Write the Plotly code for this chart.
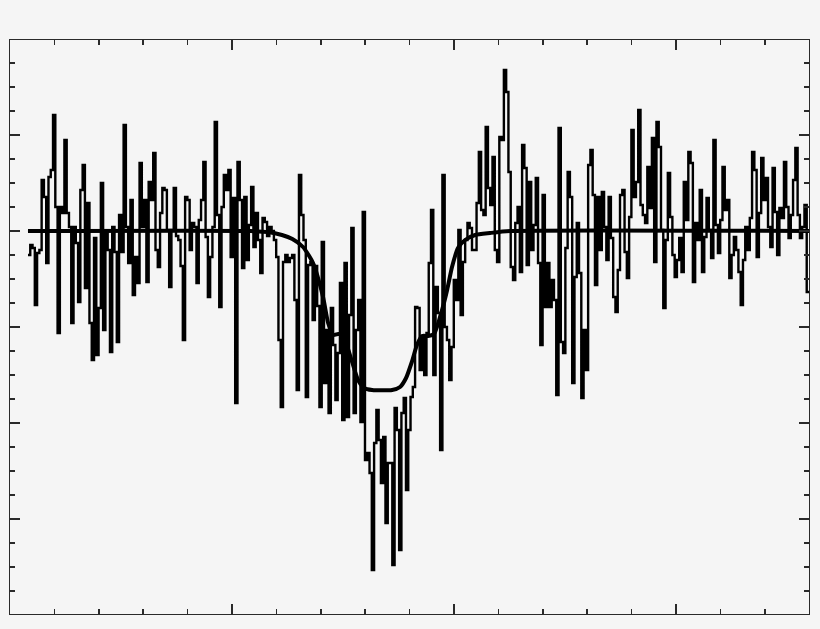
import numpy as np
import plotly.graph_objects as go

# ---- data: normalized flux per velocity bin ----
VEL_START = -191.9   # km/s, left edge of first bin
VEL_END = 159.9      # km/s, right edge of last bin

flux_seg1 = [0.952, 0.972, 0.966, 0.852, 0.956, 0.962, 1.102, 1.068, 0.936, 1.108,
             1.122, 1.232, 1.048, 0.796, 1.048, 1.036, 1.182, 1.036, 1.008, 0.816,
             1.008, 0.976, 0.858, 1.082, 1.132, 0.886, 1.056, 0.816, 0.742, 0.986,
             0.752, 0.846, 1.096, 0.802, 0.996, 0.962, 0.758, 1.008, 0.958, 0.778,
             1.032, 0.958, 1.212, 1.008, 0.936, 1.062, 0.872, 0.948, 0.896, 1.136,
             1.008, 1.062, 0.898, 1.098, 1.062, 1.156]
flux_seg2 = [0.962, 0.928, 1.036, 1.086, 1.082, 1.002, 0.888, 1.002, 1.086, 0.990,
             0.982, 0.930, 0.782, 1.068, 1.062, 0.962, 1.016, 1.008, 0.896, 1.022,
             1.062, 1.138, 0.988, 0.868, 0.948, 1.008, 1.218, 1.032, 0.848, 1.048,
             1.112, 1.082, 1.122, 0.948, 1.066, 0.656, 1.138, 1.062, 0.926, 1.068,
             0.942, 1.012, 1.088, 0.968, 1.036, 0.982, 0.916, 1.026, 1.018, 0.990,
             1.008, 1.000, 0.982, 0.948, 0.782, 0.648]
flux_seg3 = [0.938, 0.952, 0.938, 0.946, 0.952, 0.862, 0.682, 1.112, 1.032, 0.982,
             0.668, 0.932, 0.938, 0.822, 0.930, 0.850, 0.648, 0.978, 0.696, 0.802,
             0.636, 0.846, 0.772, 0.662, 0.756, 0.896, 0.622, 0.936, 0.628, 0.832,
             1.006, 0.636, 0.802, 0.862, 0.618, 1.038, 0.542, 0.556, 0.516, 0.322,
             0.576, 0.642, 0.582, 0.496, 0.588, 0.416, 0.536, 0.536, 0.332, 0.646,
             0.602, 0.362, 0.636, 0.666, 0.482, 0.602, 0.668, 0.688, 0.848]
flux_seg4 = [0.846, 0.722, 0.788, 0.712, 0.796, 0.936, 1.042, 0.712, 0.888, 0.836,
             0.562, 1.112, 0.808, 0.782, 0.702, 0.768, 0.902, 0.862, 1.002, 0.832,
             0.938, 0.982, 1.016, 1.006, 0.962, 0.962, 1.056, 1.158, 1.042, 1.032,
             1.208, 1.086, 1.052, 1.148, 0.962, 0.938, 1.188, 1.182, 1.322, 1.278,
             1.118, 0.928, 0.902, 1.016, 1.048, 0.918, 1.172, 1.126, 0.932, 1.098,
             0.962, 1.012, 1.106, 0.936, 0.772, 1.072, 0.848]
flux_seg5 = [0.936, 0.848, 0.902, 0.862, 0.672, 1.206, 0.778, 0.756, 0.966, 1.118,
             1.068, 0.696, 0.908, 1.016, 0.916, 0.666, 0.802, 0.722, 1.132, 1.162,
             1.072, 0.892, 1.068, 0.962, 1.078, 1.008, 0.942, 1.068, 0.986, 0.868,
             0.838, 0.922, 1.072, 1.082, 0.958, 0.906, 1.028, 1.202, 1.068, 1.098,
             1.242, 1.052, 1.032, 1.016, 1.128, 1.046, 1.186, 0.938, 1.218, 1.168,
             1.002, 0.846, 0.982, 1.116, 1.028, 0.952, 0.908]
flux_seg6 = [0.942, 0.986, 0.918, 1.098, 1.022, 1.158, 1.136, 0.898, 1.016, 0.982,
             1.082, 0.918, 0.988, 1.066, 1.002, 0.946, 1.182, 1.012, 0.956, 1.022,
             1.128, 1.042, 1.062, 0.906, 0.952, 0.988, 0.962, 0.918, 0.852, 0.942,
             1.008, 0.962, 1.026, 1.158, 1.122, 0.948, 1.036, 1.146, 1.062, 1.106,
             1.008, 0.968, 1.126, 1.038, 0.952, 1.046, 1.026, 1.138, 1.048, 0.986,
             1.032, 1.102, 1.166, 1.032, 0.986, 1.008, 1.052, 0.878]

# ---- model profile ----
model_vel = [-191.9, -91.9, -83.8, -77.5, -72.8, -68.0, -63.5, -59.0, -56.7, -54.5,
             -52.2, -50.4, -48.6, -45.9, -43.2, -40.5, -36.9, -27.9, -24.3, -21.6,
             -19.0, -16.7, -14.4, -11.7, -9.0, -5.4, -3.1, -0.9, 1.8, 5.0,
             9.5, 16.2, 25.3, 159.9]
model_flux = [1.000, 1.000, 0.998, 0.992, 0.984, 0.968, 0.936, 0.868, 0.816, 0.792,
              0.794, 0.794, 0.776, 0.738, 0.702, 0.686, 0.682, 0.682, 0.688, 0.706,
              0.738, 0.772, 0.790, 0.790, 0.794, 0.842, 0.882, 0.928, 0.966, 0.982,
              0.992, 0.996, 1.000, 1.000]

# ---- axis settings ----
X_RANGE = [-200.0, 159.9]
Y_RANGE = [0.234, 1.382]

flux = np.array(flux_seg1 + flux_seg2 + flux_seg3 + flux_seg4 + flux_seg5 + flux_seg6)
edges = np.linspace(VEL_START, VEL_END, len(flux) + 1)
step_x = np.append(edges[:-1], edges[-1])
step_y = np.append(flux, flux[-1])

fig = go.Figure()
fig.add_trace(go.Scatter(x=step_x, y=step_y, mode="lines",
                         line=dict(color="#000000", width=2.4, shape="hv"),
                         hoverinfo="skip", showlegend=False))
fig.add_trace(go.Scatter(x=model_vel, y=model_flux, mode="lines",
                         line=dict(color="#000000", width=4, shape="spline", smoothing=0.6),
                         hoverinfo="skip", showlegend=False))

axis_common = dict(showline=True, linecolor="#2a2a2a", linewidth=1.3, mirror="allticks",
                   ticks="inside", tickcolor="#2a2a2a", tickwidth=1.5, ticklen=10,
                   showticklabels=False, showgrid=False, zeroline=False)

fig.update_xaxes(range=X_RANGE, tick0=-200, dtick=100,
                 minor=dict(ticks="inside", ticklen=5, tickwidth=1.5, tickcolor="#2a2a2a",
                            tick0=-200, dtick=20, showgrid=False),
                 **axis_common)
fig.update_yaxes(range=Y_RANGE, tick0=1.0, dtick=0.192,
                 minor=dict(ticks="inside", ticklen=5, tickwidth=1.5, tickcolor="#2a2a2a",
                            tick0=1.0, dtick=0.048, showgrid=False),
                 **axis_common)

fig.update_layout(width=820, height=629,
                  margin=dict(l=10, r=11, t=40, b=15),
                  paper_bgcolor="#f5f5f5", plot_bgcolor="#f5f5f5",
                  showlegend=False)

page_style = ("document.body.style.margin='0';"
              "document.body.style.background='#f5f5f5';"
              "document.body.style.overflow='hidden';")
fig.write_html("out.html", post_script=page_style,
               config={"displayModeBar": False, "staticPlot": True})
